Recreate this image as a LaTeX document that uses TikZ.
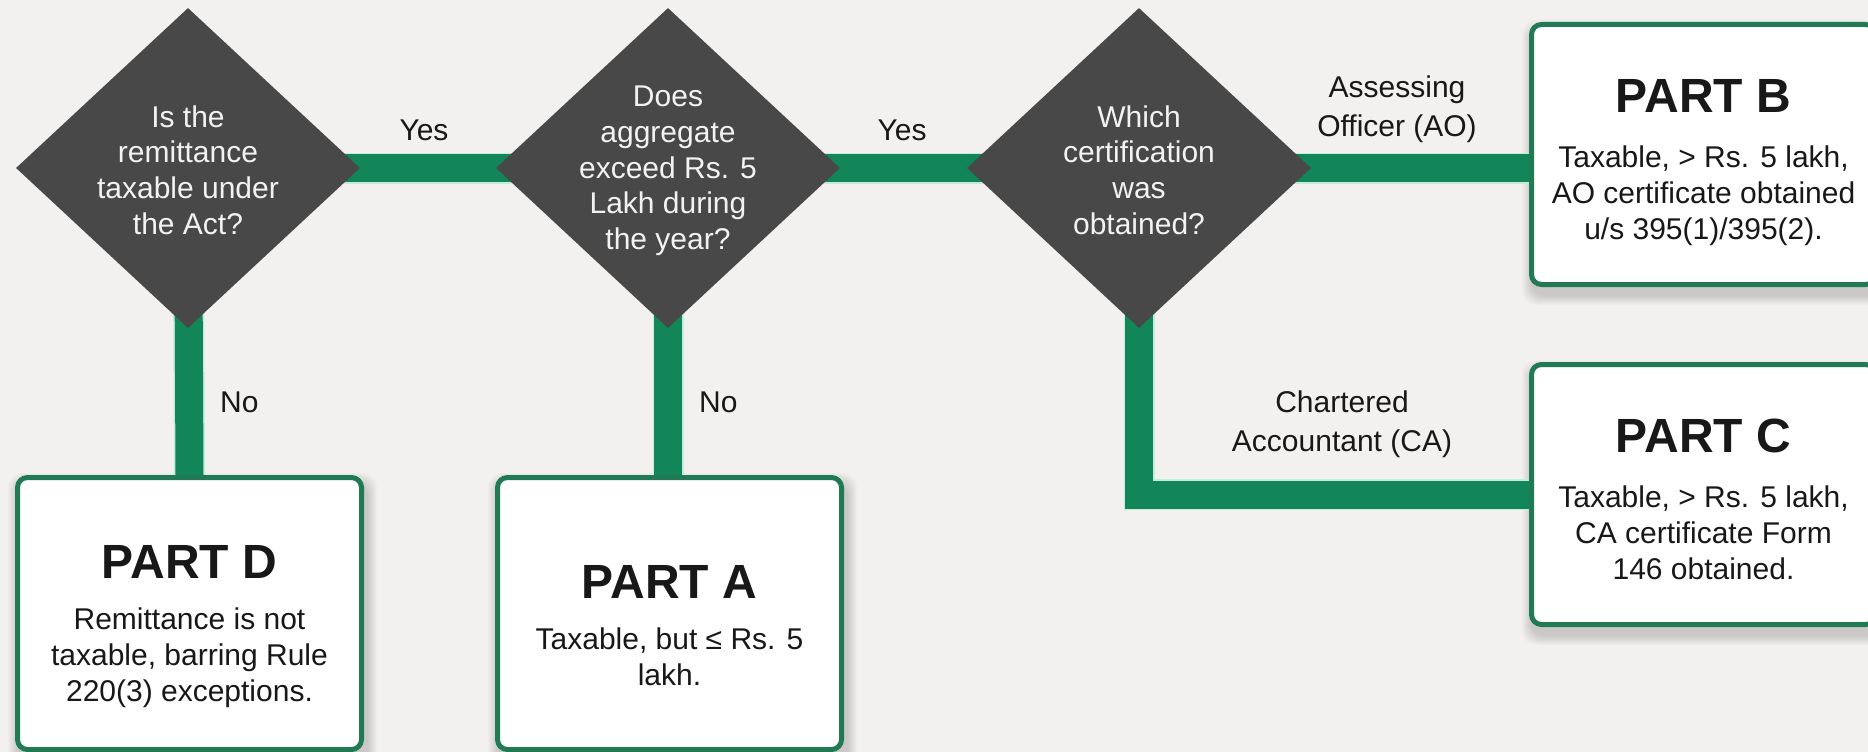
\documentclass[tikz,border=0pt]{standalone}
\usepackage{fontspec}
\setmainfont{Liberation Sans}
\usetikzlibrary{shapes.geometric,calc}
\pgfdeclarelayer{bg}
\pgfdeclarelayer{wires}
\pgfsetlayers{bg,wires,main}

\definecolor{paper}{RGB}{242,241,239}
\definecolor{flow}{RGB}{18,134,88}
\definecolor{flowedge}{RGB}{196,236,219}
\definecolor{frame}{RGB}{33,122,84}
\definecolor{slate}{RGB}{72,72,72}
\definecolor{ink}{RGB}{24,24,24}
\definecolor{pale}{RGB}{242,242,242}

\tikzset{
  question/.style={diamond, fill=slate, inner sep=0pt,
    minimum width=344pt, minimum height=320pt},
  qtext/.style={align=center, text=pale, inner sep=0pt,
    font=\fontsize{30}{35.7}\selectfont},
  partbox/.style={rectangle, rounded corners=10pt, draw=frame, line width=5pt,
    fill=white, minimum width=344pt, inner sep=0pt},
  parthead/.style={anchor=base, inner sep=0pt, text=ink,
    font=\fontsize{48}{56}\selectfont\bfseries},
  partbody/.style={anchor=north, align=center, inner sep=0pt, text=ink,
    font=\fontsize{30}{36}\selectfont},
  edgelabel/.style={align=center, inner sep=0pt, text=ink,
    font=\fontsize{30}{39}\selectfont},
  flowbar/.style={draw=flow, line width=28pt,
    preaction={draw=flowedge, line width=31pt}},
}

% soft drop shadow under a result box
\newcommand\softshadow[1]{%
  \foreach \s in {1,...,10}{%
    \fill[black, opacity=0.014, rounded corners=14pt]
      ($(#1.north west)+(-\s+3,-\s+8)$) rectangle ($(#1.south east)+(\s+3,\s+8)$);
  }}

\begin{document}
\begin{tikzpicture}[x=1pt, y=-1pt]
  \useasboundingbox (0,0) rectangle (1868,752);
  \begin{pgfonlayer}{bg}
    \fill[paper] (0,0) rectangle (1868,752);
  \end{pgfonlayer}

  % decisions
  \node[question] (q1) at (188,168) {};
  \node[question] (q2) at (668,168) {};
  \node[question] (q3) at (1139,168) {};
  \node[qtext] (t1) at ([yshift=-2pt]q1.center) {Is the\\remittance\\taxable under\\the Act?};
  \node[qtext] (t2) at ([yshift=-3pt]q2.center) {Does\\aggregate\\exceed Rs. 5\\Lakh during\\the year?};
  \node[qtext] (t3) at ([yshift=-2pt]q3.center) {Which\\certification\\was\\obtained?};

  % outcomes
  \node[partbox, minimum height=260pt] (pb) at (1703.5,154.5) {};
  \node[partbox, minimum height=260pt] (pc) at (1703.5,494.5) {};
  \node[partbox, minimum height=272pt] (pd) at (189.5,613.5) {};
  \node[partbox, minimum height=272pt] (pa) at (669.5,613.5) {};

  \node[parthead] (hb) at ($(pb.center)+(0,-42.5)$) {PART B};
  \node[partbody] (bb) at ($(pb.center)+(0,-8.5)$) {Taxable, > Rs. 5 lakh,\\AO certificate obtained\\u/s 395(1)/395(2).};
  \node[parthead] (hc) at ($(pc.center)+(0,-42.5)$) {PART C};
  \node[partbody] (bc) at ($(pc.center)+(0,-8.5)$) {Taxable, > Rs. 5 lakh,\\CA certificate Form\\146 obtained.};
  \node[parthead] (hd) at ($(pd.center)+(0,-35.5)$) {PART D};
  \node[partbody] (bd) at ($(pd.center)+(0,-5.5)$) {Remittance is not\\taxable, barring Rule\\220(3) exceptions.};
  \node[parthead] (ha) at ($(pa.center)+(0,-15.5)$) {PART A};
  \node[partbody] (ba) at ($(pa.center)+(0,14.5)$) {Taxable, but ≤ Rs. 5\\lakh.};

  % branch labels
  \node[edgelabel, anchor=base] (yes1) at (424,140) {Yes};
  \node[edgelabel, anchor=base] (yes2) at (902,140) {Yes};
  \node[edgelabel] (ao) at (1397,109) {Assessing\\Officer (AO)};
  \node[edgelabel] (ca) at (1342,424.5) {Chartered\\Accountant (CA)};
  \node[edgelabel, anchor=base west] (no1) at (220,412) {No};
  \node[edgelabel, anchor=base west] (no2) at (699,412) {No};

  \begin{pgfonlayer}{bg}
    \softshadow{pb}
    \softshadow{pc}
    \softshadow{pd}
    \softshadow{pa}
  \end{pgfonlayer}

  % connectors
  \begin{pgfonlayer}{wires}
    \draw[flowbar] (q1.center) -- (q2.center);
    \draw[flowbar] (q2.center) -- (q3.center);
    \draw[flowbar] (q3.center) -- (q3.center -| pb.west);
    \draw[flowbar] (q3.center) |- (pc.west);
    \draw[flowbar] (q1.center) -- (pd.north);
    \draw[flowbar] (q2.center) -- (q2.center |- pa.north);
  \end{pgfonlayer}
\end{tikzpicture}
\end{document}
